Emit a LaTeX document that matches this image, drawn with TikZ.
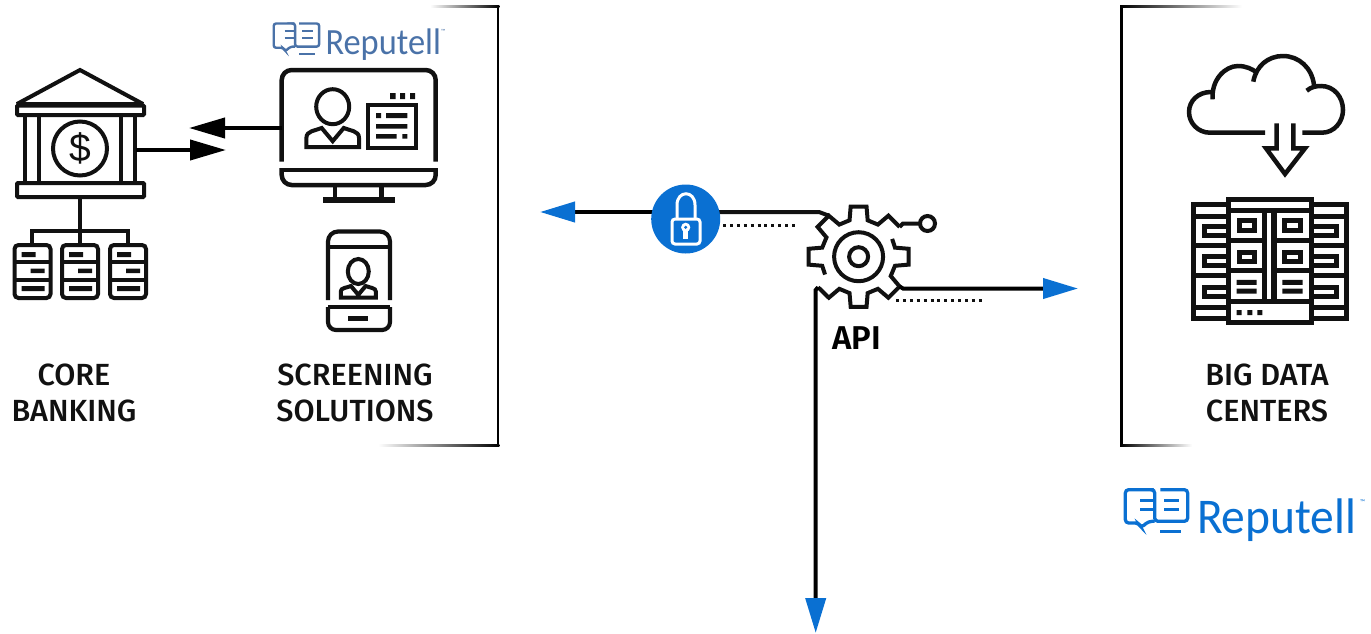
\documentclass[tikz,border=0pt]{standalone}
\usepackage{fontspec}
\setmainfont{Liberation Sans}
\newfontfamily\capfont[UprightFont={* Medium}]{Fira Sans}
\newfontfamily\apifont[UprightFont={* SemiBold}]{Fira Sans}
\newfontfamily\logofont{Carlito}
\usetikzlibrary{arrows.meta}
\definecolor{repblue}{HTML}{0A70D2}
\definecolor{repslate}{HTML}{4A72A8}
\definecolor{ink}{HTML}{111111}
\tikzset{
  icon/.style={draw=ink,line width=4.2pt,miter limit=4,fill=none},
  thinicon/.style={icon,line width=4pt},
  rackline/.style={icon,line width=5pt},
  ghost/.style={inner sep=0pt,outer sep=0pt,draw=none,fill=none},
  blackarrow/.style={draw=black,line width=4pt,-{Triangle[length=36pt,width=20pt,color=black]}},
  bluearrow/.style={draw=black,line width=4pt,-{Triangle[length=35pt,width=20pt,color=repblue]}},
  dots/.style={draw=ink,line width=3pt,dash pattern=on 3pt off 3.9pt},
  caption/.style={inner sep=0pt,align=center,text=ink,font=\capfont\fontsize{30.6}{35.5}\selectfont},
  bar/.style={draw=none,fill=ink}
}
\newcommand{\replogoicon}[5]{%
  \begin{scope}[shift={(#1,#2)},scale=#3,line width=#4,draw=#5,rounded corners=#3*10pt]
    \draw (92,2) -- (7,2) -- (7,102) -- (47,102) -- (54,116) -- (77,97) -- (95,97);
    \draw (112,2) -- (194,2) -- (194,97) -- (95,97) -- (95,2) -- (92,2);
    \begin{scope}[sharp corners]
    \draw (52,34) -- (92,34) (52,62) -- (92,62);
    \draw (124,34) -- (167,34) (124,62) -- (167,62);
    \draw (112,127) -- (175,127);
    \end{scope}
  \end{scope}}
\newcommand{\serverunit}[1]{%
  \begin{scope}[shift={(#1,0)}]
    \draw[thinicon,rounded corners=4pt] (0,245) rectangle (36,298);
    \draw[thinicon] (0,262) -- (36,262) (0,280) -- (36,280);
    \fill[ink] (7,252) rectangle (21,257) (16,268.5) rectangle (30,273) (7,286) rectangle (30,291);
  \end{scope}}
\newcommand{\persona}[7]{% head x, head y, rx, ry, half width, shoulder top, bottom
  \draw[thinicon] (#1,#2) ellipse [x radius=#3,y radius=#4];
  \draw[thinicon,line join=miter] (#1-#5,#7) -- (#1-#5,#7-.35*#5)
     .. controls (#1-#5,#6+.1*#5) and (#1-.65*#5,#6+.1*#5) .. (#1-.42*#5,#6)
     -- (#1,#6+.5*#5) -- (#1+.42*#5,#6)
     .. controls (#1+.65*#5,#6+.1*#5) and (#1+#5,#6+.1*#5) .. (#1+#5,#7-.35*#5)
     -- (#1+#5,#7) -- cycle;}
\begin{document}
\begin{tikzpicture}[x=1pt,y=-1pt]
\useasboundingbox (0,0) rectangle (1371,633);

% frames
\draw[draw=black,line width=2.6pt] (498,6) -- (498,445.5);
\shade[left color=white,right color=black] (430,5.2) rectangle (499.3,7.8);
\shade[left color=white,right color=black] (378,444.2) rectangle (499.3,446.8);
\draw[draw=black,line width=2.6pt] (1121.5,6) -- (1121.5,445.5);
\shade[left color=black,right color=white] (1120.2,5.2) rectangle (1242,7.8);
\shade[left color=black,right color=white] (1120.2,444.2) rectangle (1192,446.8);

% bank
\node[ghost,minimum width=130pt,minimum height=130pt] (bank) at (80,135) {};
\draw[thinicon,line join=miter] (17,104) -- (80,70) -- (143,104) -- cycle;
\draw[thinicon,rounded corners=1pt] (17,105.5) rectangle (144,115);
\draw[thinicon] (25,115) -- (25,183) (39,115) -- (39,183) (121,115) -- (121,183) (135,115) -- (135,183);
\draw[thinicon] (80,148.5) circle [radius=27];
\node[ghost,text=ink,font=\fontsize{39}{39}\selectfont] (dollar) at (80,148.5) {\$};
\draw[thinicon,rounded corners=1pt] (17,183) rectangle (144,197);
% server tree
\node[ghost,minimum width=132pt,minimum height=54pt] (tree) at (80,271) {};
\draw[thinicon] (80,197) -- (80,245);
\draw[thinicon] (32.3,245) -- (32.3,231) -- (128.3,231) -- (128.3,245);
\serverunit{14.5}\serverunit{62}\serverunit{110}

% monitor
\node[ghost,minimum width=156pt,minimum height=134pt] (monitor) at (358.5,136) {};
\draw[icon,line width=4.5pt,rounded corners=10pt] (281.7,161.5) -- (281.7,70) -- (435.7,70) -- (435.7,161.5);
\draw[icon,line width=4.5pt,rounded corners=10pt] (281.7,168) -- (281.7,185) -- (435.7,185) -- (435.7,168);
\draw[icon,line width=4.5pt] (281.7,170) -- (435.7,170);
\draw[icon,line width=4.5pt] (335,185) -- (335,200) (381.7,185) -- (381.7,200);
\draw[icon,line width=5.5pt] (323,200) -- (395,200);
\persona{332.7}{106.7}{16.5}{17.5}{26.3}{128}{147}
\draw[thinicon] (367.7,105) rectangle (415.7,147.5);
\fill[ink] (390,93) rectangle (395.7,99) (400,93) rectangle (405,99) (410,93) rectangle (415,99);
\fill[ink] (376,113) rectangle (381,118) (386,113) rectangle (407.3,118)
  (376,124) rectangle (407.3,128.6) (376,134) rectangle (396.7,138.6) (402.3,134) rectangle (407.3,138.6);

% phone
\node[ghost,minimum width=64pt,minimum height=100pt] (phone) at (358.7,280.5) {};
\draw[icon,rounded corners=10pt] (328,300) -- (328,231.5) -- (390,231.5) -- (390,300);
\draw[icon] (328,247.3) -- (390,247.3);
\draw[icon,rounded corners=8pt] (328,307) -- (328,330) -- (390,330) -- (390,307);
\draw[icon] (328,307) -- (390,307);
\fill[ink] (348,316) rectangle (368,320.5);
\persona{358.3}{271.5}{10.5}{12.5}{17.5}{286}{297.5}

% logos
\replogoicon{272}{23}{.243}{2.4pt}{repslate}
\node[ghost,anchor=base west,text=repslate,font=\logofont\fontsize{37}{37}\selectfont] (logoA) at (325.5,54.5) {\scalebox{.93}[1]{Reputell}};
\node[ghost,anchor=base west,text=repslate,font=\logofont\fontsize{6}{6}\selectfont] (logoAtm) at (441,33) {™};
\replogoicon{1123}{489}{.3333}{3.3pt}{repblue}
\node[ghost,anchor=base west,text=repblue,font=\logofont\fontsize{50}{50}\selectfont] (logoB) at (1197,533) {\scalebox{.95}[1]{Reputell}};
\node[ghost,anchor=base west,text=repblue,font=\logofont\fontsize{7}{7}\selectfont] (logoBtm) at (1360,504) {™};

% captions
\node[caption] (core) at (74,393) {CORE\\BANKING};
\node[caption] (screen) at (355,393) {SCREENING\\SOLUTIONS};
\node[caption] (bigdata) at (1267,393) {BIG DATA\\CENTERS};
\node[ghost,anchor=base,text=black,font=\apifont\fontsize{33}{33}\selectfont] (api) at (856.5,349) {API};

% bank <-> monitor arrows
\coordinate (monitorOut) at (282,128);
\coordinate (bankIn) at (189,128);
\coordinate (bankOut) at (136,150);
\coordinate (monitorIn) at (226,150);
\draw[blackarrow] (monitorOut) -- (bankIn);
\draw[blackarrow] (bankOut) -- (monitorIn);

% API gear
\coordinate (gearC) at (858.6,256.7);
\begin{scope}[shift={(gearC)},yscale=-1]
  \draw[icon,line width=4pt,line join=miter] (28:38)
    \foreach \t in {0,-45,-90} { -- (\t+14:37.5) -- (\t+9:50.7) -- (\t-9:50.7) -- (\t-14:37.5) }
    -- (-121:37.5) -- (-126:50.7) -- (-143:50.7);
  \draw[icon,line width=4pt,line join=miter] (208:38)
    \foreach \t in {180,135,90} { -- (\t+14:37.5) -- (\t+9:50.7) -- (\t-9:50.7) -- (\t-14:37.5) }
    -- (59:37.5) -- (54:50.7) -- (36:50.7) coordinate (gearNE);
  \coordinate (gearNW) at (126:50.7);
  \coordinate (gearSE) at (-36:50.7);
  \coordinate (gearSW) at (-143:50.7);
  \draw[icon,line width=4pt] (0,0) circle [radius=24.5];
  \draw[icon,line width=4pt] (0,0) circle [radius=9.5];
\end{scope}
\node[ghost,minimum width=102pt,minimum height=102pt] (gear) at (gearC) {};

% pin
\node[ghost,draw=ink,line width=4pt,circle,minimum size=15pt,fill=white] (pin) at (927.5,223.5) {};
\draw[icon,line width=4pt,line join=miter] (gearNE) -- (903,223.5) -- (pin);

% lock
\coordinate (leftEnd) at (540,212);
\coordinate (lockL) at (660,212);
\coordinate (lockR) at (710,212);
\coordinate (rightEnd) at (1078,288.5);
\coordinate (downEnd) at (815.7,633);
\draw[bluearrow] (lockL) -- (leftEnd);
\draw[icon,line width=4pt,line join=miter] (lockR) -- (819,212) -- (gearNW);
\draw[bluearrow,shorten <=0pt] (gearSE) -- (903,288.5) -- (rightEnd);
\draw[bluearrow] (gearSW) -- (815.7,290) -- (downEnd);
\node[ghost,circle,fill=repblue,minimum size=69pt] (lock) at (685.7,219) {};
\draw[draw=white,line width=3pt,rounded corners=3pt] (672,219) rectangle (700,244);
\draw[draw=white,line width=3pt] (677,219) -- (677,205) .. controls (677,190) and (695,190) .. (695,205) -- (695,219);
\fill[white] (685.7,227.3) circle [radius=4.6];
\fill[repblue] (685.7,227.3) circle [radius=1.7];
\fill[white] (683.2,230) rectangle (688.2,239);

% dotted
\coordinate (dotA) at (723,225);
\coordinate (dotB) at (798,225);
\coordinate (dotC) at (896,300.7);
\coordinate (dotD) at (985,300.7);
\draw[dots] (dotA) -- (dotB);
\draw[dots] (dotC) -- (dotD);

% cloud
\node[ghost,minimum width=156pt,minimum height=120pt] (cloud) at (1266,115) {};
\draw[icon,line width=4.5pt,line cap=butt] (1265,132.7) -- (1210,132.7) .. controls (1198,132.7) and (1189,123) .. (1189,112) .. controls (1189,101) and (1198,92) .. (1211,92);
\draw[icon,line width=4.5pt] (1212.7,99.3) .. controls (1211,80) and (1225,66) .. (1238,66) .. controls (1246,66) and (1252,69) .. (1256,72);
\draw[icon,line width=4.5pt] (1253.3,81.7) .. controls (1256,66) and (1268,56) .. (1283,56) .. controls (1299,56) and (1312,68) .. (1314,85);
\draw[icon,line width=4.5pt] (1306.7,90.7) .. controls (1311,87) and (1316,86) .. (1321,86) .. controls (1334,86) and (1343,97) .. (1343,110) .. controls (1343,122) and (1334,132.7) .. (1322,132.7) -- (1302.3,132.7);
\draw[icon,line width=4.5pt,line join=miter] (1276.7,123.3) -- (1276.7,148.3) -- (1266,148.3) -- (1285,174) -- (1305,148.3) -- (1293.3,148.3) -- (1293.3,123.3);

% data centre
\node[ghost,minimum width=155pt,minimum height=125pt] (rack) at (1269.5,261) {};
\draw[rackline] (1193,204.5) rectangle (1346,318);
\draw[rackline,fill=white] (1228.3,199.5) rectangle (1311.7,322.5);
\draw[rackline] (1228.3,210.7) -- (1311.7,210.7) (1228.3,301.7) -- (1311.7,301.7);
\draw[rackline] (1228.3,240.7) -- (1263.3,240.7) (1274.3,240.7) -- (1311.7,240.7)
  (1228.3,270.7) -- (1263.3,270.7) (1274.3,270.7) -- (1311.7,270.7);
\draw[icon,line width=5.5pt] (1264.3,210.7) -- (1264.3,301.7) (1274,210.7) -- (1274,301.7);
\draw[rackline] (1239,220) rectangle (1254,230) (1284,220) rectangle (1300,230)
  (1239,252.5) rectangle (1254,261.5) (1284,252.5) rectangle (1300,261.5);
\fill[ink] (1236.7,279.8) rectangle (1256.7,284.8) (1236.7,288.5) rectangle (1256.7,293.5)
  (1282.3,279.8) rectangle (1302.7,284.8) (1282.3,288.5) rectangle (1302.7,293.5);
\fill[ink] (1236.7,310) rectangle (1241.7,315) (1247.3,310) rectangle (1252.3,315) (1257.3,310) rectangle (1262.3,315);
\foreach \y in {216,245,275,307} {
  \draw[rackline] (1193,\y) -- (1228.3,\y) (1311.7,\y) -- (1346,\y);
}
\foreach \y in {226,256.5,287.5} {
  \draw[rackline] (1228.3,\y) -- (1204,\y) -- (1204,\y+9.3) -- (1228.3,\y+9.3);
  \draw[rackline] (1311.7,\y) -- (1336,\y) -- (1336,\y+9.3) -- (1311.7,\y+9.3);
}
\end{tikzpicture}
\end{document}
